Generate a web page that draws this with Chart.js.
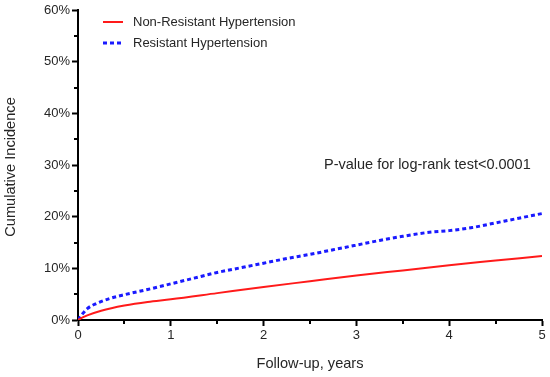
<!DOCTYPE html>
<html>
<head>
<meta charset="utf-8">
<script src="https://cdn.jsdelivr.net/npm/chart.js@4/dist/chart.umd.min.js"></script>
<style>
html,body{margin:0;padding:0;background:#fff;}
#c{display:block;}
</style>
</head>
<body>
<canvas id="c" width="550" height="377"></canvas>
<script>
// ---- data ----
const seriesNames = ["Non-Resistant Hypertension", "Resistant Hypertension"];
const nonResistantYears = [0, 0.05, 0.1, 0.25, 0.5, 0.75, 1.0, 1.5, 2.0, 2.5, 3.0, 3.5, 4.0, 4.5, 5.0];
const nonResistantPct   = [0, 0.5, 0.9, 1.8, 2.8, 3.5, 4.0, 5.2, 6.4, 7.5, 8.6, 9.6, 10.6, 11.5, 12.4];
const resistantYears = [0, 0.05, 0.1, 0.2, 0.35, 0.5, 0.75, 1.0, 1.25, 1.5, 1.75, 2.0, 2.25, 2.5, 2.75, 3.0, 3.25, 3.5, 3.75, 4.0, 4.25, 4.5, 4.75, 5.0];
const resistantPct   = [0, 1.2, 2.2, 3.2, 4.2, 4.9, 5.9, 7.0, 8.1, 9.2, 10.1, 11.0, 11.9, 12.7, 13.6, 14.5, 15.4, 16.2, 16.9, 17.3, 17.9, 18.8, 19.7, 20.6];
const yTickLabels = ["0%", "10%", "20%", "30%", "40%", "50%", "60%"];
const xTickLabels = ["0", "1", "2", "3", "4", "5"];
const xTitle = "Follow-up, years";
const yTitle = "Cumulative Incidence";
const annotationText = "P-value for log-rank test<0.0001";

const FONT = "'Liberation Sans', Arial, Helvetica, sans-serif";
const RED = "#ff1a1a";
const BLUE = "#1a1aff";
const TEXT = "#262626";

function toPoints(xs, ys){ return xs.map((x,i)=>({x:x, y:ys[i]})); }

const overlay = {
  id: 'overlay',
  afterDraw(chart){
    const ctx = chart.ctx;
    const xs = chart.scales.x, ys = chart.scales.y;
    ctx.save();
    // minor ticks
    ctx.strokeStyle = '#000';
    ctx.lineWidth = 2;
    for (let v = 5; v < 60; v += 10){
      const py = Math.round(ys.getPixelForValue(v));
      ctx.beginPath(); ctx.moveTo(xs.left - 4, py); ctx.lineTo(xs.left, py); ctx.stroke();
    }
    for (let v = 0.5; v < 5; v += 1){
      const px = Math.round(xs.getPixelForValue(v));
      ctx.beginPath(); ctx.moveTo(px, ys.bottom); ctx.lineTo(px, ys.bottom + 4); ctx.stroke();
    }
    // axis titles
    ctx.fillStyle = TEXT;
    ctx.font = "14.6px " + FONT;
    ctx.textAlign = 'center';
    ctx.textBaseline = 'middle';
    ctx.fillText(xTitle, (xs.left + xs.right)/2, 364);
    ctx.save();
    ctx.translate(11, 167);
    ctx.rotate(-Math.PI/2);
    ctx.fillText(yTitle, 0, 0);
    ctx.restore();
    // legend
    const lx0 = 103, lx1 = 123;
    const rows = [
      {y: 22, color: RED, width: 2, dash: [], label: seriesNames[0]},
      {y: 43, color: BLUE, width: 3, dash: [4, 3], label: seriesNames[1]}
    ];
    ctx.font = "13px " + FONT;
    ctx.textAlign = 'left';
    rows.forEach(r => {
      ctx.strokeStyle = r.color;
      ctx.lineWidth = r.width;
      ctx.setLineDash(r.dash);
      ctx.beginPath(); ctx.moveTo(lx0, r.y); ctx.lineTo(lx1, r.y); ctx.stroke();
      ctx.setLineDash([]);
      ctx.fillStyle = TEXT;
      ctx.fillText(r.label, 133, r.y + 0.5);
    });
    // annotation
    ctx.font = "14.5px " + FONT;
    ctx.fillText(annotationText, 324, 165);
    ctx.restore();
  }
};

new Chart(document.getElementById('c'), {
  type: 'line',
  data: {
    datasets: [
      {
        label: seriesNames[0],
        data: toPoints(nonResistantYears, nonResistantPct),
        borderColor: RED,
        borderWidth: 2,
        pointRadius: 0,
        fill: false,
        cubicInterpolationMode: 'monotone'
      },
      {
        label: seriesNames[1],
        data: toPoints(resistantYears, resistantPct),
        borderColor: BLUE,
        borderWidth: 3,
        borderDash: [4, 3],
        pointRadius: 0,
        fill: false,
        cubicInterpolationMode: 'monotone'
      }
    ]
  },
  options: {
    responsive: false,
    devicePixelRatio: 1,
    animation: false,
    layout: { padding: { top: 10, right: 8, left: 0, bottom: 0 } },
    plugins: { legend: { display: false }, tooltip: { enabled: false } },
    scales: {
      x: {
        type: 'linear',
        min: 0, max: 5,
        afterFit(s){ s.height = 57; },
        border: { display: true, color: '#000', width: 2 },
        grid: {
          display: true, drawOnChartArea: false, drawTicks: true,
          tickLength: 6, tickWidth: 2,
          tickColor: (c) => (c.tick && Number.isInteger(c.tick.value)) ? '#000' : 'rgba(0,0,0,0)'
        },
        ticks: {
          stepSize: 0.5,
          autoSkip: false,
          maxRotation: 0,
          padding: 2,
          color: TEXT,
          font: { family: FONT, size: 13 },
          callback: (v) => Number.isInteger(v) ? xTickLabels[v] : ''
        }
      },
      y: {
        type: 'linear',
        min: 0, max: 60,
        afterFit(s){ s.width = 78; },
        border: { display: true, color: '#000', width: 2 },
        grid: {
          display: true, drawOnChartArea: false, drawTicks: true,
          tickLength: 6, tickWidth: 2,
          tickColor: (c) => (c.tick && c.tick.value % 10 === 0) ? '#000' : 'rgba(0,0,0,0)'
        },
        ticks: {
          stepSize: 5,
          autoSkip: false,
          padding: 2,
          color: TEXT,
          font: { family: FONT, size: 13 },
          callback: (v) => v % 10 === 0 ? yTickLabels[v/10] : ''
        }
      }
    }
  },
  plugins: [overlay]
});
</script>
</body>
</html>
